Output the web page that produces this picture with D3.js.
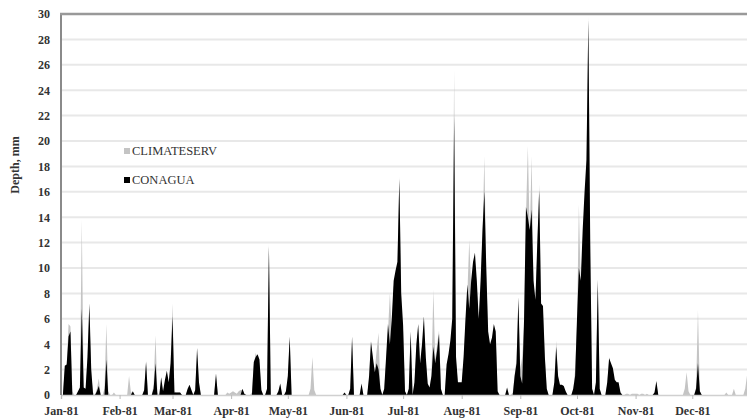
<!DOCTYPE html>
<html>
<head>
<meta charset="utf-8">
<script src="https://cdn.jsdelivr.net/npm/d3@7"></script>
<style>
    body { margin: 0; background: #fff; }
    #root { width: 747px; height: 419px; }
    text { font-family: 'Liberation Serif', 'Times New Roman', serif; fill: #333; }
</style>
</head>
<body>
<div id="root"></div>
<script>
// Daily depth (mm), 1981, one array per month
const conaguaJan = [0,0,2.3,2.4,4.6,5.0,0,0,0,0.3,0.6,6.8,0.6,0.5,3.0,7.2,2.0,0,0,0.3,0.7,0,0,0,2.8,0,0,0,0,0,0];
const conaguaFeb = [0,0,0,0,0,0,0,0.3,0,0,0,0,0,0.4,2.6,0,0,0,0.5,2.5,0,0,1.4,0.3,1.2,1.9,1.0,2.5];
const conaguaMar = [6.2,0.2,0.2,0.2,0.2,0,0,0,0.5,0.8,0.4,0,0.4,3.7,1.0,0,0,0,0,0,0,0,0,1.7,0,0,0,0,0,0,0];
const conaguaApr = [0,0,0,0,0,0,0.5,0.1,0,0,0,0,2.6,3.0,3.2,2.8,0.4,0,0,0.5,11.7,0,0,0,0,0.3,0.9,0,0,0.3];
const conaguaMay = [1.5,4.6,0,0,0,0,0,0,0,0,0,0,0,0,0,0,0,0,0,0,0,0,0,0,0,0,0,0,0,0,0.2];
const conaguaJun = [0,0,0.5,4.6,0,0,0,0,0.9,0,0,0,1.5,4.2,3.0,1.8,2.5,2.0,0.5,0,0.5,3.0,5.6,4.0,6.0,9.0,9.8,10.5,17.0,8.0];
const conaguaJul = [5.5,0.3,0,0.5,5.0,0,1.0,4.0,5.6,2.5,4.0,6.2,3.0,0.9,0.6,1.5,3.8,2.5,3.5,4.8,0.5,0,0,2.4,3.2,4.3,6.0,21.9,3.0,1.0,1.0];
const conaguaAug = [1.0,3.0,6.0,8.7,6.8,9.0,10.5,11.2,9.0,6.0,9.0,13.0,16.0,10.0,5.0,4.0,4.5,5.6,5.0,0.3,0,0,0,0,0.6,0,0,0,1.5,2.5,7.7];
const conaguaSep = [1.5,0.9,6.0,14.8,14.0,13.0,14.6,9.0,7.5,12.0,16.1,7.2,7.0,3.0,0.5,0,0,0,1.0,3.8,1.5,0.8,0.8,0.7,0.3,0,0,0,0.5,1.5];
const conaguaOct = [6.0,10.0,9.0,13.0,16.0,18.5,29.5,12.0,0.5,0,1.0,9.1,0.5,0,0,0,1.0,2.9,2.5,2.1,1.2,1.0,1.0,0.2,0,0,0,0,0,0,0];
const conaguaNov = [0,0,0,0,0,0,0,0,0,0,0.2,1.1,0,0,0,0,0,0,0,0,0,0,0,0,0,0,0,0,0,0];
const conaguaDec = [0,0,0.5,2.5,0.3,0,0,0,0,0,0,0,0,0,0,0,0,0,0,0,0,0,0,0,0,0,0,0,0,0,0];

const climateJan = [0,0,2.0,2.2,5.6,5.4,0.3,0,0,0.2,0.5,13.8,0.4,0.3,2.5,6.5,1.5,0.2,0,0.5,1.3,0,0,0.5,5.6,0.3,0,0,0.2,0,0];
const climateFeb = [0,0,0,0,0,1.5,0.2,0.2,0,0,0,0,0,0.3,2.7,0,0,0,0.8,4.7,0.2,0,1.0,0.2,1.0,1.5,0.8,2.8];
const climateMar = [7.2,0.3,0.2,0.2,0.2,0,0,0,0.4,0.6,0.3,0,0.3,3.2,0.8,0,0,0,0,0,0,0,0,1.5,0,0,0,0,0,0.2,0.1];
const climateApr = [0.2,0.3,0.2,0.1,0.3,0.4,0.4,0,0,0,0,0.2,2.4,3.3,2.9,2.5,0.3,0,0,0.4,11.9,0,0,0,0,0.2,0.8,0,0,0.2];
const climateMay = [1.2,4.3,0,0,0,0,0,0,0,0,0,0,0.5,3.0,0.4,0,0,0,0,0,0,0,0,0,0,0,0,0,0,0,0.1];
const climateJun = [0,0,0.4,4.3,0,0,0,0,0.7,0,0,0,1.2,4.3,2.6,2.0,3.5,4.9,0.4,0,0.4,2.6,5.0,8.0,5.2,8.5,9.0,10.0,17.2,7.0];
const climateJul = [5.0,0.3,0,0.4,4.6,0,0.8,3.5,5.2,2.2,3.8,5.5,2.6,0.8,0.5,1.6,8.3,2.8,4.0,5.1,0.4,0,0,2.0,3.0,4.0,5.5,25.6,2.6,0.8,0.9];
const climateAug = [0.9,2.6,5.5,8.0,12.2,8.5,9.8,10.5,8.5,5.5,8.5,12.5,18.8,9.5,4.6,3.8,4.2,5.0,4.6,0.2,0,0,0,0,0.4,0,0,0.2,1.6,2.8,7.0];
const climateSep = [2.0,3.0,5.5,14.0,19.6,12.5,18.8,8.5,7.0,11.5,16.6,6.8,6.5,2.8,0.4,0,0,0,0.8,4.3,1.2,0.6,0.6,0.5,0.2,0,0,0,0.4,2.0];
const climateOct = [5.5,15.0,8.5,12.0,15.0,17.5,29.8,11.0,0.4,0,0.8,8.5,0.4,0,0,0,0.8,3.0,2.2,1.8,1.0,0.8,0.8,0.2,0,0,0.1,0.1,0,0.1,0.1];
const climateNov = [0.1,0.1,0,0.1,0.1,0,0.1,0,0,0,0.1,0.8,0,0,0,0,0,0,0,0,0,0,0,0,0,0,0.5,1.8,0.3,0];
const climateDec = [0,0,0.6,6.7,0.3,0,0,0,0,0,0,0,0,0,0,0,0,0,0.2,0,0,0,0.5,0,0,0,0,0,0.5,1.6,0.8];

const seriesNames = ['CLIMATESERV', 'CONAGUA'];
const yTicks = [0,2,4,6,8,10,12,14,16,18,20,22,24,26,28,30];

const conagua = [].concat(conaguaJan, conaguaFeb, conaguaMar, conaguaApr, conaguaMay, conaguaJun,
                          conaguaJul, conaguaAug, conaguaSep, conaguaOct, conaguaNov, conaguaDec);
const climate = [].concat(climateJan, climateFeb, climateMar, climateApr, climateMay, climateJun,
                          climateJul, climateAug, climateSep, climateOct, climateNov, climateDec);
const days = d3.timeDay.range(new Date(1981, 0, 1), new Date(1982, 0, 1));

const root = document.getElementById('root');

const buildGraph = () => {
    // Dimensions
    const width = 747;
    const height = 419;
    const left = 61;
    const top = 14;
    const bottom = 395;
    const color = d3.scaleOrdinal().domain(seriesNames).range(['#c4c4c4', '#000']);

    const svg = d3.select(root)
                    .append('svg')
                    .attr('width', width)
                    .attr('height', height);

    const x = d3.scaleTime()
                .domain([days[0], days[days.length - 1]])
                .range([left, 749]);
    const y = d3.scaleLinear()
                .domain([0, 30])
                .range([bottom, top]);

    // Grid
    svg.append('g')
        .selectAll('line')
        .data(yTicks.filter(t => t > 0 && t < 30))
        .enter()
        .append('line')
        .attr('x1', left)
        .attr('x2', width)
        .attr('y1', d => y(d))
        .attr('y2', d => y(d))
        .attr('stroke', '#e8e8e8')
        .attr('stroke-width', 2);

    // Areas, gray behind black
    const area = (vals) => d3.area()
                    .x((d, i) => x(days[i]))
                    .y0(y(0))
                    .y1((d, i) => y(vals[i]));

    svg.append('path')
        .datum(climate)
        .attr('d', area(climate))
        .attr('fill', color('CLIMATESERV'));
    svg.append('path')
        .datum(conagua)
        .attr('d', area(conagua))
        .attr('fill', color('CONAGUA'));

    // X axis
    const xAxis = d3.axisBottom(x)
                    .ticks(d3.timeMonth.every(1))
                    .tickFormat(d3.timeFormat('%b-%y'))
                    .tickSize(4)
                    .tickPadding(7);
    const gx = svg.append('g')
        .attr('transform', `translate(0,${bottom})`)
        .call(xAxis);
    gx.select('.domain').attr('stroke', '#d0d0d0').attr('stroke-width', 1.5);
    gx.selectAll('.tick line').attr('stroke', '#bbb');
    gx.selectAll('.tick text')
        .attr('font-size', '12px')
        .attr('font-weight', 'bold')
        .attr('font-family', "'Liberation Serif', serif")
        .attr('fill', '#333');

    // Y axis
    const yAxis = d3.axisLeft(y).tickValues(yTicks).tickSize(0).tickPadding(11);
    const gy = svg.append('g')
        .attr('transform', `translate(${left},0)`)
        .call(yAxis);
    gy.select('.domain').remove();
    gy.selectAll('.tick text')
        .attr('font-size', '12px')
        .attr('font-weight', 'bold')
        .attr('font-family', "'Liberation Serif', serif")
        .attr('fill', '#333');

    // Frame lines
    svg.append('line')
        .attr('x1', left).attr('x2', left)
        .attr('y1', top).attr('y2', bottom)
        .attr('stroke', '#8a8a8a')
        .attr('stroke-width', 2);
    svg.append('line')
        .attr('x1', left - 1).attr('x2', width)
        .attr('y1', top).attr('y2', top)
        .attr('stroke', '#999')
        .attr('stroke-width', 2.5);

    // Y label
    svg.append('text')
        .attr('text-anchor', 'middle')
        .attr('transform', `translate(19, 165)rotate(-90)`)
        .attr('font-size', '12px')
        .attr('font-weight', 'bold')
        .text('Depth, mm');

    // Legend
    const legend = svg.selectAll('.legend')
        .data(seriesNames)
        .enter().append('g')
        .attr('class', 'legend')
        .attr('transform', (d, i) => `translate(124,${151 + i * 29})`);

    legend.append('rect')
        .attr('x', 0)
        .attr('y', -3)
        .attr('width', 6)
        .attr('height', 6)
        .style('fill', color);

    legend.append('text')
        .attr('x', 8)
        .attr('y', 0)
        .attr('dy', '.35em')
        .attr('font-size', '12.5px')
        .text(d => d);
}

buildGraph();
</script>
</body>
</html>
